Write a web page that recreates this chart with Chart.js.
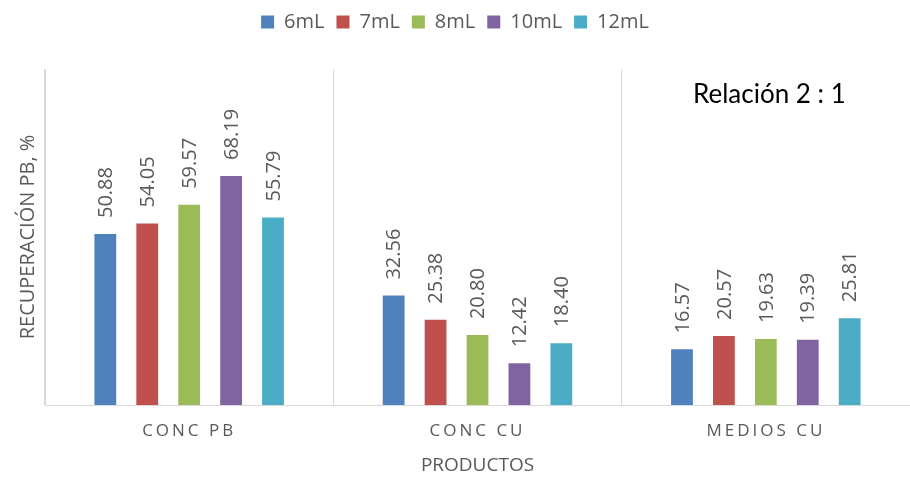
<!DOCTYPE html>
<html>
<head>
<meta charset="utf-8">
<script src="https://cdn.jsdelivr.net/npm/chart.js@4/dist/chart.umd.min.js"></script>
<style>
  html, body { margin: 0; padding: 0; background: #fff; }
  #wrap { width: 910px; height: 477px; }
</style>
</head>
<body>
<div id="wrap"><canvas id="chart"></canvas></div>
<script>
const categories = ['CONC PB', 'CONC CU', 'MEDIOS CU'];
const seriesNames = ['6mL', '7mL', '8mL', '10mL', '12mL'];
const values6 = [50.88, 32.56, 16.57];
const values7 = [54.05, 25.38, 20.57];
const values8 = [59.57, 20.80, 19.63];
const values10 = [68.19, 12.42, 19.39];
const values12 = [55.79, 18.40, 25.81];
const colors = ['#4F81BD', '#C0504D', '#9BBB59', '#8064A2', '#4BACC6'];

const FONT = '"Open Sans", sans-serif';
const GREY = '#595959';

// value labels standing on top of every bar, rotated
const barLabels = {
    id: 'barLabels',
    afterDatasetsDraw(chart) {
        const ctx = chart.ctx;
        ctx.save();
        ctx.font = '20px ' + FONT;
        ctx.fillStyle = GREY;
        ctx.textAlign = 'left';
        ctx.textBaseline = 'middle';
        chart.data.datasets.forEach((ds, i) => {
            chart.getDatasetMeta(i).data.forEach((bar, j) => {
                ctx.save();
                ctx.translate(bar.x + 1, bar.y - 16);
                ctx.rotate(-Math.PI / 2);
                ctx.fillText(ds.data[j].toFixed(2), 0, 0);
                ctx.restore();
            });
        });
        ctx.font = '26px Lato, sans-serif';
        ctx.fillStyle = '#000';
        ctx.textBaseline = 'alphabetic';
        ctx.fillText('Relación 2 : 1', 693, 103);
        ctx.restore();
    }
};

// spaced-out category labels and fixed legend height
const tweaks = {
    id: 'tweaks',
    beforeInit(chart) {
        const fit = chart.legend.fit;
        chart.legend.fit = function () {
            fit.call(this);
            this.height = 69;
        };
    },
    beforeDraw(chart) {
        const sx = chart.scales.x;
        if (!sx._spaced) {
            const orig = sx.drawLabels;
            sx.drawLabels = function (area) {
                this.ctx.save();
                this.ctx.letterSpacing = '3px';
                orig.call(this, area);
                this.ctx.restore();
            };
            sx._spaced = true;
        }
    }
};

new Chart(document.getElementById('chart'), {
    type: 'bar',
    data: {
        labels: categories,
        datasets: [values6, values7, values8, values10, values12].map((d, i) => ({
            label: seriesNames[i],
            data: d,
            backgroundColor: colors[i],
            categoryPercentage: 0.727,
            barPercentage: 0.52
        }))
    },
    options: {
        responsive: true,
        maintainAspectRatio: false,
        animation: false,
        layout: { padding: { left: 0, right: 0, top: 0, bottom: 0 } },
        plugins: {
            legend: {
                position: 'top',
                labels: {
                    boxWidth: 13,
                    boxHeight: 13,
                    padding: 12,
                    color: GREY,
                    font: { family: FONT, size: 20 }
                }
            },
            tooltip: { enabled: false }
        },
        scales: {
            x: {
                grid: { offset: true, color: '#D9D9D9', drawTicks: false },
                border: { color: '#D9D9D9', width: 1 },
                ticks: { color: GREY, font: { family: FONT, size: 17 }, padding: 16 },
                title: {
                    display: true,
                    text: 'PRODUCTOS',
                    color: GREY,
                    font: { family: FONT, size: 19 },
                    padding: { top: 0, bottom: 0 }
                },
                afterFit(scale) { scale.height = 72; }
            },
            y: {
                min: 0,
                max: 100,
                grid: { display: false },
                border: { color: '#D9D9D9', width: 1 },
                ticks: { display: false },
                title: {
                    display: true,
                    text: 'RECUPERACIÓN PB, %',
                    color: GREY,
                    font: { family: FONT, size: 20 },
                    padding: { top: 16, bottom: 0 }
                },
                afterFit(scale) { scale.width = 45; }
            }
        }
    },
    plugins: [tweaks, barLabels]
});
</script>
</body>
</html>
